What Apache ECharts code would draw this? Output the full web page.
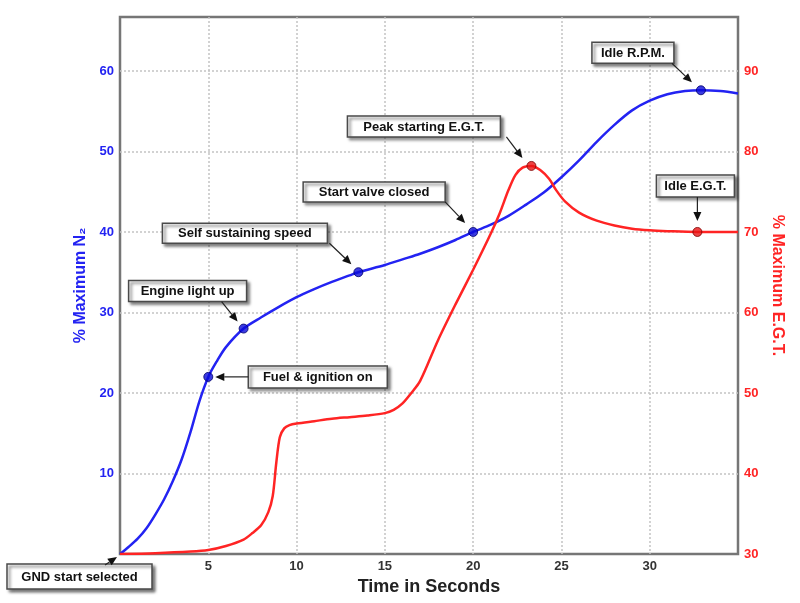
<!DOCTYPE html>
<html><head><meta charset="utf-8">
<script src="https://cdn.jsdelivr.net/npm/echarts@6/dist/echarts.min.js"></script>
<style>html,body{margin:0;padding:0;background:#fff}#c{width:800px;height:603px}</style>
</head><body><div id="c"></div>
<script>
// ---- data ----
const timeN2 = [0,0.5,1,1.5,2,2.5,3,3.5,4,4.5,5,5.5,6,7,8,9,10,11,12,13,13.5,15,16,17,18,19,20,21,22,23,24,25,26,27,28,29,30,31,32,32.9,34,35];
const n2Values = [0,0.9,1.9,3.2,4.9,6.8,9.1,11.8,15.2,19,22,24,25.7,28,29.4,30.7,31.9,32.9,33.8,34.6,35,35.9,36.6,37.3,38.1,39,40,40.9,42,43.4,44.9,46.8,48.9,51.2,53.3,55.1,56.3,57.1,57.5,57.6,57.5,57.2];
const timeEgt = [0,2,4,5,6,7,7.5,8,8.4,8.65,8.85,9.05,9.3,9.6,10,11,12,13,14,15,15.5,16,16.5,17,18,19,20,21,21.5,22,22.4,22.8,23.3,23.8,24.3,24.7,25.2,26,27,28,29,30,31,32.7,35];
const egtValues = [30,30.1,30.3,30.5,31,31.8,32.6,33.6,35.2,37.2,41.3,44.5,45.6,46,46.2,46.5,46.8,47,47.2,47.5,47.9,48.7,50,51.5,56.5,61,65.3,69.8,72.3,75.2,77.1,78,78.2,77.7,76.6,75.2,73.8,72.4,71.4,70.8,70.4,70.2,70.1,70,70];
const n2KeyTimes = [5,7,13.5,20,32.9];
const n2KeyValues = [22,28,35,40,57.6];
const egtKeyTimes = [23.3,32.7];
const egtKeyValues = [78.2,70];
const xTickLabels = [5,10,15,20,25,30];
const n2TickLabels = [10,20,30,40,50,60];
const egtTickLabels = [30,40,50,60,70,80,90];
const annotationLabels = ['GND start selected','Fuel & ignition on','Engine light up','Self sustaining speed','Start valve closed','Peak starting E.G.T.','Idle R.P.M.','Idle E.G.T.'];

const FONT = '"Liberation Sans", Arial, Helvetica, sans-serif';
const BLUE = '#2323f2', RED = '#ff2424';
const zip = (a,b) => a.map((v,i)=>[v,b[i]]);

const chart = echarts.init(document.getElementById('c'), null, {renderer:'canvas'});
chart.setOption({
  backgroundColor:'#fff',
  animation:false,
  grid:{left:120,right:62,top:17,bottom:49,show:true,borderColor:'#767676',borderWidth:2.5,backgroundColor:'transparent'},
  xAxis:{type:'value',min:0,max:35,interval:5,
    axisLine:{show:false},axisTick:{show:false},
    axisLabel:{formatter:v=>xTickLabels.includes(v)?String(v):'',color:'#333',fontWeight:'bold',fontSize:13,fontFamily:FONT,margin:6},
    splitLine:{show:true,showMinLine:false,showMaxLine:false,lineStyle:{color:'#c4c4c4',type:[2,2],width:1.5}},
    name:'Time in Seconds',nameLocation:'middle',nameGap:11,
    nameTextStyle:{fontSize:18,fontWeight:'bold',color:'#222',fontFamily:FONT}},
  yAxis:[
    {type:'value',min:0,max:66.7,interval:10,position:'left',
     axisLine:{show:false},axisTick:{show:false},
     axisLabel:{formatter:v=>n2TickLabels.includes(v)?String(v):'',color:BLUE,fontWeight:'bold',fontSize:13,fontFamily:FONT,margin:6},
     splitLine:{show:true,showMinLine:false,showMaxLine:false,lineStyle:{color:'#c4c4c4',type:[2,2],width:1.5}},
     name:'% Maximum N₂',nameLocation:'middle',nameGap:30,nameRotate:90,
     nameTextStyle:{fontSize:16,fontWeight:'bold',color:BLUE,fontFamily:FONT}},
    {type:'value',min:30,max:96.7,interval:10,position:'right',
     axisLine:{show:false},axisTick:{show:false},
     axisLabel:{formatter:v=>egtTickLabels.includes(v)?String(v):'',color:RED,fontWeight:'bold',fontSize:13,fontFamily:FONT,margin:6},
     splitLine:{show:false},
     name:'% Maximum E.G.T.',nameLocation:'middle',nameGap:29,nameRotate:-90,
     nameTextStyle:{fontSize:16,fontWeight:'bold',color:RED,fontFamily:FONT}}
  ],
  series:[
    {name:'N2',type:'line',yAxisIndex:0,data:zip(timeN2,n2Values),smooth:0.3,showSymbol:false,symbol:'none',
     lineStyle:{color:BLUE,width:2.5},z:3},
    {name:'EGT',type:'line',yAxisIndex:1,data:zip(timeEgt,egtValues),smooth:0.3,showSymbol:false,symbol:'none',
     lineStyle:{color:RED,width:2.5},z:3},
    {name:'N2 points',type:'scatter',yAxisIndex:0,data:zip(n2KeyTimes,n2KeyValues),symbolSize:9,
     itemStyle:{color:'#0a0ad8',borderColor:'#00006a',borderWidth:1},z:5},
    {name:'EGT points',type:'scatter',yAxisIndex:1,data:zip(egtKeyTimes,egtKeyValues),symbolSize:9,
     itemStyle:{color:'#e81414',borderColor:'#7a0000',borderWidth:1},z:5}
  ]
});

// annotation layout: target point (from data arrays) + box/arrow offsets in pixels
const annLayout = [
  {axis:0, t:timeN2[0], v:n2Values[0], box:[-113,10,145,25], from:[-15,11], to:[-3,3]},
  {axis:0, t:n2KeyTimes[0], v:n2KeyValues[0], box:[40,-11,139,22], from:[40,0], to:[7,0]},
  {axis:0, t:n2KeyTimes[1], v:n2KeyValues[1], box:[-115,-48,118,21], from:[-22,-27], to:[-6,-7]},
  {axis:0, t:n2KeyTimes[2], v:n2KeyValues[2], box:[-196,-49,165,20], from:[-29,-29], to:[-7,-8]},
  {axis:0, t:n2KeyTimes[3], v:n2KeyValues[3], box:[-170,-50,142,20], from:[-28,-30], to:[-8,-9]},
  {axis:1, t:egtKeyTimes[0], v:egtKeyValues[0], box:[-184,-50,153,21], from:[-25,-29], to:[-9,-8]},
  {axis:0, t:n2KeyTimes[4], v:n2KeyValues[4], box:[-109,-48,82,21], from:[-29,-27], to:[-9,-8]},
  {axis:1, t:egtKeyTimes[1], v:egtKeyValues[1], box:[-41,-57,78,22], from:[0,-35], to:[0,-11]}
];

const els = [];
annLayout.forEach((a,i)=>{
  const p = chart.convertToPixel({xAxisIndex:0,yAxisIndex:a.axis},[a.t,a.v]);
  const bx = p[0]+a.box[0], by = p[1]+a.box[1], bw=a.box[2], bh=a.box[3];
  els.push({type:'rect',shape:{x:bx,y:by,width:bw,height:bh},z:100,
    style:{fill:'#fff',stroke:'#4a4a4a',lineWidth:1.5,shadowBlur:3,shadowOffsetX:2.5,shadowOffsetY:2.5,shadowColor:'rgba(0,0,0,0.55)'}});
  els.push({type:'text',x:bx+bw/2,y:by+bh/2+0.5,z:101,
    style:{text:annotationLabels[i],align:'center',verticalAlign:'middle',fill:'#111',fontSize:13,fontWeight:'bold',fontFamily:FONT}});
  const sx=p[0]+a.from[0], sy=p[1]+a.from[1], ex=p[0]+a.to[0], ey=p[1]+a.to[1];
  const L=Math.hypot(ex-sx,ey-sy), dx=(ex-sx)/L, dy=(ey-sy)/L;
  const hl=9, hw=4;
  const baseX=ex-dx*hl, baseY=ey-dy*hl;
  els.push({type:'line',shape:{x1:sx,y1:sy,x2:baseX,y2:baseY},z:100,style:{stroke:'#222',lineWidth:1.2}});
  els.push({type:'polygon',shape:{points:[[ex,ey],[baseX-dy*hw,baseY+dx*hw],[baseX+dy*hw,baseY-dx*hw]]},z:100,style:{fill:'#111'}});
});
chart.setOption({graphic:els});
</script>
</body></html>
